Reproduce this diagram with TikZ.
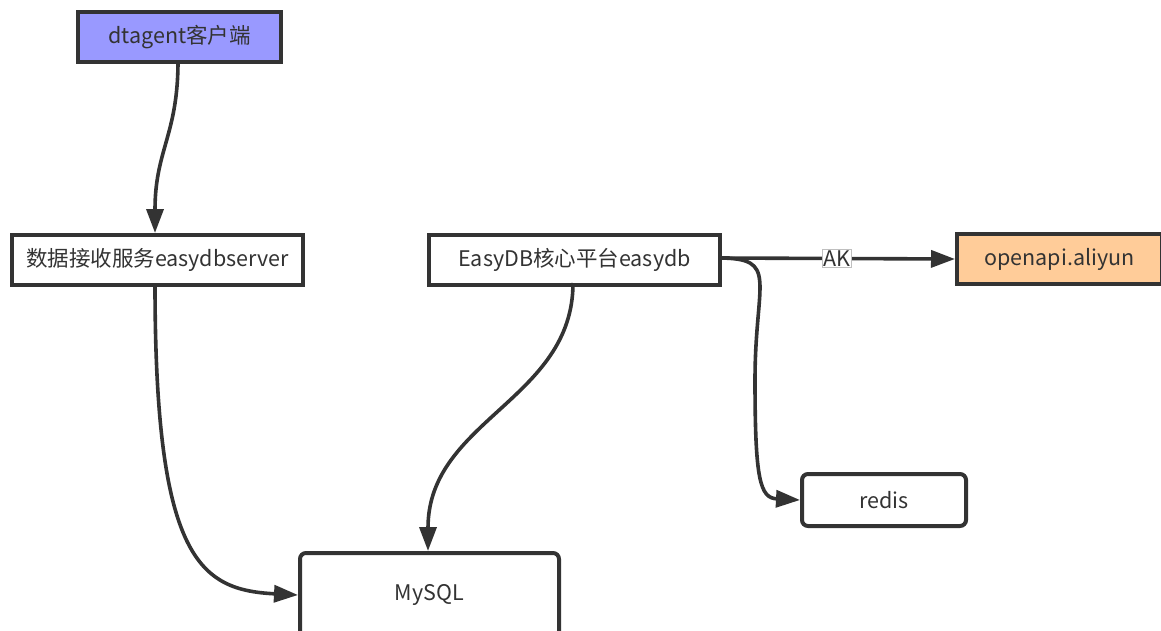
\documentclass[tikz,border=0pt]{standalone}
\usepackage{fontspec}
\setmainfont{Noto Sans CJK SC}
\usetikzlibrary{arrows.meta}
\definecolor{ln}{HTML}{333333}
\definecolor{txt}{HTML}{333333}
\definecolor{blu}{HTML}{9999FF}
\definecolor{org}{HTML}{FFCC99}
\begin{document}
\begin{tikzpicture}[x=1pt,y=-1pt,
  box/.style={draw=ln,line width=4pt,minimum height=50pt,inner sep=0pt,text=txt,font=\fontsize{21.5}{24}\selectfont,anchor=north west},
  rbox/.style={box,rounded corners=6pt},
  conn/.style={draw=ln,line width=3.6pt,-{Triangle[length=24pt,width=17pt]}}]
\useasboundingbox (0,0) rectangle (1161,631);
\node[box,fill=blu,minimum width=203pt] (dt) at (76,10) {dtagent客户端};
\node[box,fill=white,minimum width=291pt] (srv) at (10,233) {数据接收服务easydbserver};
\node[box,fill=white,minimum width=291pt] (core) at (427,233) {EasyDB核心平台easydb};
\node[box,fill=org,minimum width=205pt] (api) at (955,232) {openapi.aliyun};
\node[rbox,fill=white,minimum width=164pt,minimum height=52pt] (redis) at (800,472) {redis};
\node[rbox,fill=white,minimum width=259pt,minimum height=84pt] (mysql) at (298,551) {MySQL};
\coordinate (dtb) at (178,61);
\coordinate (srvb) at (155,284);
\coordinate (coreb) at (573,283);
\coordinate (corer) at (718,258);
\draw[conn] (dtb) .. controls (178,135) and (155,150) .. (srv.north -| 155,0);
\draw[conn] (srvb) .. controls (155,560) and (200,590) .. (mysql.west);
\draw[conn] (coreb) .. controls (573,400) and (428,420) .. (mysql.north -| 428,0);
\draw[conn] (corer) -- node[fill=white,draw=black!25,line width=0.5pt,inner sep=1pt,text=txt,font=\fontsize{21.5}{24}\selectfont]{AK} (api.west);
\draw[conn] (corer) .. controls (780,258) and (755,280) .. (755,380) .. controls (755,480) and (760,498) .. (redis.west);
\end{tikzpicture}
\end{document}
